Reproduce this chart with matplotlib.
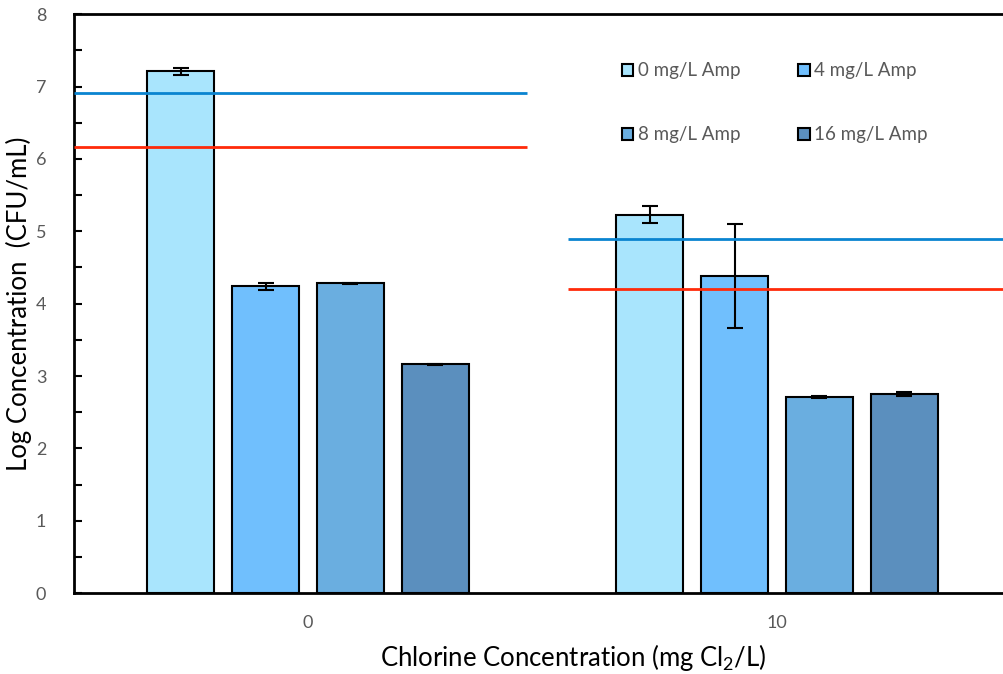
import numpy as np
import matplotlib.pyplot as plt
from matplotlib.ticker import MultipleLocator

plt.rcParams['font.family'] = ['Lato', 'DejaVu Sans']
plt.rcParams['mathtext.fontset'] = 'custom'
plt.rcParams['mathtext.rm'] = 'Lato'
plt.rcParams['mathtext.it'] = 'Lato'

chlorine = ['0', '10']
series = ['0 mg/L Amp', '4 mg/L Amp', '8 mg/L Amp', '16 mg/L Amp']
values = [[7.21, 5.23],
          [4.24, 4.38],
          [4.28, 2.71],
          [3.16, 2.75]]
errors = [[0.05, 0.12],
          [0.05, 0.72],
          [0.01, 0.01],
          [0.01, 0.03]]
blue_ref = [6.91, 4.89]
red_ref = [6.17, 4.20]
ref_spans = [(-0.5, 0.467), (0.554, 1.5)]

colors = ['#a9e5fd', '#70bffd', '#6aaee0', '#5b8fbe']

fig = plt.figure(figsize=(10.04, 6.74), dpi=100)
ax = fig.add_axes([0.0737, 0.12, 0.9263, 0.859])

x = np.arange(len(chlorine))
pitch = 0.181
width = 0.143
bars = []
for i in range(len(series)):
    b = ax.bar(x + (i - 1.5) * pitch, values[i], width, yerr=errors[i],
               color=colors[i], edgecolor='black', linewidth=1.5,
               error_kw=dict(ecolor='black', elinewidth=1.5, capsize=6, capthick=1.5),
               label=series[i], zorder=2)
    bars.append(b)

for k in range(len(chlorine)):
    a, b = ref_spans[k]
    ax.hlines(blue_ref[k], a, b, color='#0a84d0', linewidth=2, zorder=3)
    ax.hlines(red_ref[k], a, b, color='#ff2a0a', linewidth=2, zorder=3)

ax.set_xlim(-0.499, 1.484)
ax.set_ylim(0, 8)
ax.set_xticks(x)
ax.set_xticklabels(chlorine)
ax.yaxis.set_major_locator(MultipleLocator(1))
ax.yaxis.set_minor_locator(MultipleLocator(0.5))
ax.tick_params(axis='y', which='both', direction='in', length=6, width=1.5,
               labelsize=13, labelcolor='#595959', pad=20)
ax.tick_params(axis='x', length=0, labelsize=13, labelcolor='#595959', pad=16)
for s in ['left', 'bottom', 'top']:
    ax.spines[s].set_linewidth(2)
ax.spines['right'].set_visible(False)

ax.set_ylabel('Log Concentration  (CFU/mL)', fontsize=18.5, labelpad=3)
ax.set_xlabel('Chlorine Concentration (mg Cl$_2$/L)', fontsize=18.5)
ax.xaxis.set_label_coords(0.537, -0.085)

# legend rows: 0/4 then 8/16
order = [0, 2, 1, 3]
leg = ax.legend([bars[i] for i in order], [series[i] for i in order],
                ncol=2, loc='upper left', bbox_to_anchor=(0.571, 0.946),
                frameon=False, fontsize=13.5, handlelength=0.6, handleheight=0.6,
                handletextpad=0.25, columnspacing=3.1, labelspacing=2.5,
                labelcolor='#595959')
for h in leg.legend_handles:
    h.set_linewidth(1.5)

fig.savefig('out.png', dpi=100)
